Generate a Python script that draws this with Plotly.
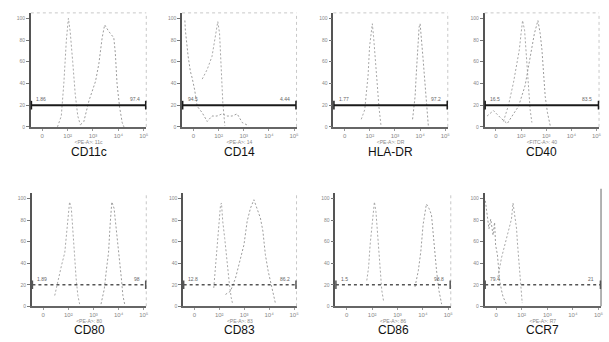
import plotly.graph_objects as go

# ---------------- data ----------------
panel_titles = ["CD11c", "CD14", "HLA-DR", "CD40", "CD80", "CD83", "CD86", "CCR7"]
axis_titles = ["<PE-A>: 11c", "<PE-A>: 14", "<PE-A>: DR", "<FITC-A>: 40",
               "<PE-A>: 80", "<PE-A>: 83", "<PE-A>: 86", "<PE-A>: R7"]
gate_left_labels = ["1.86", "94.5", "1.77", "16.5", "1.89", "12.8", "1.5", "79.4"]
gate_right_labels = ["97.4", "4.44", "97.2", "83.5", "98", "86.2", "98.8", "21"]
gate_level = 20

x_tick_vals = [0, 1, 2, 3, 4]
x_tick_text = ["0", "10²", "10³", "10⁴", "10⁵"]
y_tick_vals = [0, 20, 40, 60, 80, 100]
y_tick_text = ["0", "20", "40", "60", "80", "100"]

# isotype control histograms (x in decade units, y in % of max)
iso_x = [
    [0.6, 0.75, 0.85, 0.95, 1.03, 1.1, 1.2, 1.3, 1.4, 1.5],
    [0.35, 0.55, 0.74, 0.88, 0.97, 1.04, 1.08, 1.12, 1.17, 1.25],
    [0.66, 0.80, 0.86, 0.93, 0.99, 1.10, 1.15, 1.23, 1.29, 1.36, 1.45],
    [0.30, 0.50, 0.70, 0.83, 0.93, 1.0, 1.06, 1.14, 1.19, 1.24, 1.30, 1.36, 1.43],
    [0.46, 0.60, 0.73, 0.86, 0.99, 1.05, 1.12, 1.18, 1.25, 1.31, 1.38, 1.45],
    [0.78, 0.85, 0.92, 0.98, 1.05, 1.09, 1.14, 1.22, 1.28, 1.32, 1.36, 1.41, 1.48, 1.54],
    [0.79, 0.86, 0.92, 0.99, 1.09, 1.15, 1.22, 1.28, 1.33, 1.38, 1.45],
    [0.07, 0.21, 0.34, 0.44, 0.53, 0.60, 0.66, 0.73, 0.80, 0.83, 0.89, 0.93, 0.97, 1.02],
]
iso_y = [
    [0, 10, 40, 80, 100, 88, 60, 30, 10, 2],
    [44, 53, 65, 83, 97, 86, 62, 38, 22, 1],
    [7, 16, 31, 47, 74, 95, 83, 62, 41, 19, 0],
    [5, 20, 41, 56, 71, 86, 98, 89, 71, 56, 38, 16, 4],
    [10, 26, 38, 50, 78, 97, 91, 66, 47, 26, 10, 2],
    [17, 36, 54, 73, 94, 96, 79, 63, 48, 39, 29, 20, 8, 2],
    [24, 36, 57, 76, 97, 88, 63, 45, 27, 15, 5],
    [27, 45, 57, 66, 72, 81, 96, 84, 72, 60, 42, 27, 15, 3],
]
# marker-stained histograms
mk_x = [
    [1.51, 1.64, 1.84, 2.10, 2.23, 2.36, 2.46, 2.62, 2.82, 2.88, 2.95, 3.05, 3.15, 3.22],
    [-0.34, -0.32, -0.21, -0.12, -0.05, 0.05, 0.15, 0.35, 0.55, 0.74, 0.94, 1.14, 1.34, 1.54, 1.74, 1.94, 2.2],
    [2.70, 2.80, 2.85, 2.91, 2.96, 3.0, 3.04, 3.12, 3.18, 3.25, 3.33],
    [-0.35, -0.1, 0.2, 0.45, 0.7, 0.9, 1.16, 1.36, 1.53, 1.67, 1.76, 1.83, 1.89, 1.96, 2.05, 2.16],
    [2.30, 2.43, 2.52, 2.60, 2.66, 2.73, 2.82, 2.91, 2.96, 3.04, 3.11, 3.17, 3.25],
    [1.25, 1.45, 1.65, 1.78, 1.99, 2.12, 2.25, 2.39, 2.52, 2.65, 2.75, 2.85, 2.96, 3.06, 3.15, 3.26],
    [2.69, 2.82, 2.92, 3.01, 3.14, 3.24, 3.34, 3.41, 3.47, 3.54, 3.63, 3.74],
    [-0.42, -0.35, -0.28, -0.21, -0.12, -0.06, -0.02, 0.05, 0.10, 0.14, 0.21, 0.27, 0.40],
]
mk_y = [
    [2, 5, 24, 42, 58, 82, 94, 88, 82, 68, 39, 18, 4, 0],
    [98, 89, 65, 51, 45, 34, 19, 13, 5, 10, 10, 12, 10, 10, 12, 4, 1],
    [7, 28, 50, 71, 92, 95, 86, 62, 44, 25, 0],
    [10, 15, 8, 3, 12, 19, 38, 62, 86, 98, 86, 71, 50, 28, 13, 1],
    [2, 16, 35, 50, 75, 97, 91, 72, 57, 41, 26, 10, 1],
    [11, 14, 26, 39, 57, 79, 91, 99, 91, 82, 70, 48, 33, 23, 11, 2],
    [18, 33, 51, 76, 95, 91, 85, 66, 51, 33, 15, 2],
    [98, 87, 72, 81, 66, 78, 57, 48, 36, 24, 15, 9, 2],
]

# ---------------- layout geometry ----------------
W, H = 609, 342
x_px = [(31, 147), (183, 298), (335, 450), (487, 602),
        (32, 147), (184, 298), (337, 453), (487, 604)]
y_px = [(13, 128)] * 4 + [(195, 309)] * 4
x_range = [-0.45, 4.1]
y_range = [0, 105]

fig = go.Figure()
layout = dict(
    width=W, height=H, margin=dict(l=0, r=0, t=0, b=0),
    paper_bgcolor="white", plot_bgcolor="white", showlegend=False,
    font=dict(family="Liberation Sans, Arial, sans-serif", color="#888"),
)
shapes, annotations = [], []

for i in range(8):
    n = i + 1
    xa = "xaxis" if n == 1 else f"xaxis{n}"
    ya = "yaxis" if n == 1 else f"yaxis{n}"
    xr = "x" if n == 1 else f"x{n}"
    yr = "y" if n == 1 else f"y{n}"
    x0, x1 = x_px[i]
    y0, y1 = y_px[i]
    top_row = i < 4
    layout[xa] = dict(
        domain=[x0 / W, x1 / W], range=x_range, anchor=yr,
        showgrid=False, zeroline=False, showline=True, linecolor="#666", linewidth=1.5,
        tickmode="array", tickvals=x_tick_vals, ticktext=x_tick_text,
        ticks="outside", ticklen=2, tickcolor="#999",
        tickfont=dict(size=6, color="#888"),
        title=dict(text=axis_titles[i], font=dict(size=5, color="#888"), standoff=0),
    )
    layout[ya] = dict(
        domain=[1 - y1 / H, 1 - y0 / H], range=y_range, anchor=xr,
        showgrid=False, zeroline=False, showline=True, linecolor="#555", linewidth=1.6,
        tickmode="array", tickvals=y_tick_vals, ticktext=y_tick_text,
        ticks="outside", ticklen=3, tickcolor="#777",
        tickfont=dict(size=5, color="#888"),
    )
    # light dotted frame on top and right
    if top_row:
        shapes.append(dict(type="line", xref=f"{xr} domain", yref=f"{yr} domain",
                           x0=0, x1=1, y0=1, y1=1,
                           line=dict(color="#c8c8c8", width=1, dash="dot")))
    right_col = "#999" if i == 7 else "#c8c8c8"
    right_w = 1.5 if i == 7 else 1
    shapes.append(dict(type="line", xref=f"{xr} domain", yref=f"{yr} domain",
                       x0=1, x1=1, y0=0, y1=1.04 if i == 7 else 1,
                       line=dict(color=right_col, width=right_w,
                                 dash="solid" if i == 7 else "dot")))

    # histograms
    fig.add_trace(go.Scatter(x=iso_x[i], y=iso_y[i], mode="lines", xaxis=xr, yaxis=yr,
                             line=dict(color="#a8a8a8", width=1, dash="2px,2px"),
                             hoverinfo="skip"))
    fig.add_trace(go.Scatter(x=mk_x[i], y=mk_y[i], mode="lines", xaxis=xr, yaxis=yr,
                             line=dict(color="#9c9c9c", width=1, dash="2px,2px"),
                             hoverinfo="skip"))

    # gate bar
    gcol = "#1a1a1a" if top_row else "#555"
    gdash = "solid" if top_row else "dot"
    gw = 2 if top_row else 1.5
    shapes.append(dict(type="line", xref=f"{xr} domain", yref=yr,
                       x0=0.005, x1=0.995, y0=gate_level, y1=gate_level,
                       line=dict(color=gcol, width=gw, dash=gdash)))
    for ex in (0.005, 0.995):
        shapes.append(dict(type="line", xref=f"{xr} domain", yref=yr,
                           x0=ex, x1=ex, y0=gate_level - 4, y1=gate_level + 4,
                           line=dict(color=gcol, width=1.5)))
    annotations.append(dict(xref=f"{xr} domain", yref=yr, x=0.03, y=gate_level + 1,
                            text=gate_left_labels[i], showarrow=False,
                            xanchor="left", yanchor="bottom",
                            font=dict(size=5, color="#666")))
    annotations.append(dict(xref=f"{xr} domain", yref=yr, x=0.96, y=gate_level + 1,
                            text=gate_right_labels[i], showarrow=False,
                            xanchor="right", yanchor="bottom",
                            font=dict(size=5, color="#666")))
    # panel title
    annotations.append(dict(xref="paper", yref="paper",
                            x=(x0 + x1) / 2 / W,
                            y=1 - (153 if top_row else 333) / H,
                            text=panel_titles[i], showarrow=False,
                            xanchor="center", yanchor="middle",
                            font=dict(size=12, color="#111",
                                      family="Liberation Sans, Arial, sans-serif")))

layout["shapes"] = shapes
layout["annotations"] = annotations
fig.update_layout(**layout)
fig.write_html("out.html")
